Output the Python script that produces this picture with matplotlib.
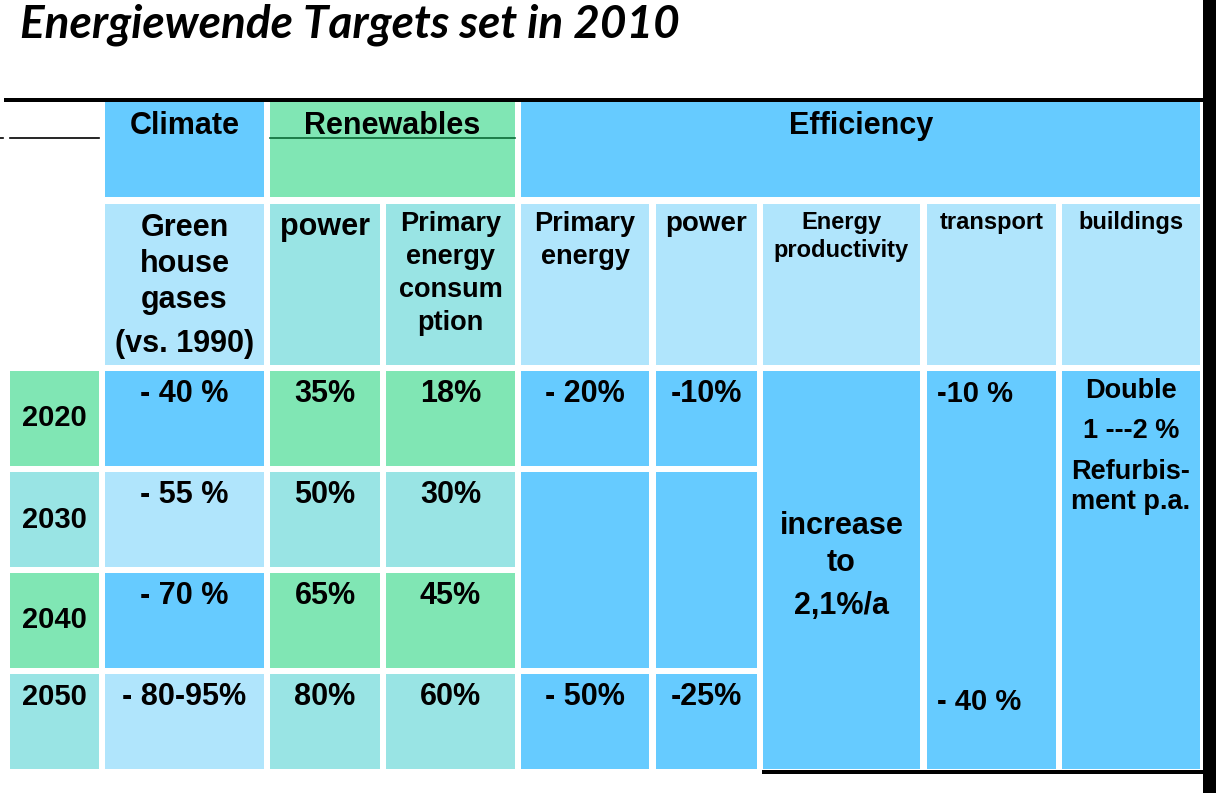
import matplotlib
matplotlib.use("Agg")
import matplotlib.pyplot as plt
from matplotlib.patches import Rectangle

# table content
title = "Energiewende Targets set in 2010"
groups = ["Climate", "Renewables", "Efficiency"]
years = ["2020", "2030", "2040", "2050"]
climate = ["- 40 %", "- 55 %", "- 70 %", "- 80-95%"]
ren_power = ["35%", "50%", "65%", "80%"]
ren_primary = ["18%", "30%", "45%", "60%"]
eff_primary = ["- 20%", "- 50%"]     # 2020, 2050 (2030-2040 merged, empty)
eff_power = ["-10%", "-25%"]
productivity = ["increase", "to", "2,1%/a"]
transport = ["-10 %", "- 40 %"]
buildings = ["Double", "1 ---2 %", "Refurbis-", "ment p.a."]

DARK = "#66CBFF"
LIGHT = "#B0E5FC"
GREEN = "#80E6B4"
TEAL = "#99E4E4"

fig = plt.figure(figsize=(12.16, 7.93), dpi=100)
ax = fig.add_axes([0, 0, 1, 1])
ax.set_xlim(0, 1216)
ax.set_ylim(793, 0)
ax.axis("off")

def cell(x0, x1, y0, y1, color):
    ax.add_patch(Rectangle((x0, y0), x1 - x0, y1 - y0, facecolor=color,
                           edgecolor="none", zorder=1))

def txt(x, y, s, size=22, ha="center", weight="bold"):
    ax.text(x, y, s, fontsize=size, ha=ha, va="center", weight=weight,
            family="Liberation Sans", color="black", zorder=3)

# column edges
cols = {"year": (10, 99), "clim": (105, 264), "rpow": (270, 380),
        "rpri": (386, 515), "epri": (521, 649), "epow": (656, 757),
        "prod": (763, 920), "tran": (927, 1056), "bld": (1062, 1200)}
row_top = [371, 472, 573, 674]
row_h = 95

# title
ax.text(20, 25, title, fontsize=33, style="italic", weight="bold",
        family="Lato", ha="left", va="center")

# group header row
cell(105, 264, 102, 197, DARK)
cell(270, 515, 102, 197, GREEN)
cell(521, 1200, 102, 197, DARK)
txt(185, 126, groups[0])
txt(392, 126, groups[1])
txt(861, 126, groups[2])
ax.plot([270, 515], [138, 138], color="#0B6B36", lw=1.2, zorder=2)
ax.plot([0, 3], [138, 138], color="black", lw=1.2, zorder=2)
ax.plot([10, 99], [138, 138], color="black", lw=1.2, zorder=2)

# sub header row
sub_colors = {"clim": LIGHT, "rpow": TEAL, "rpri": TEAL, "epri": LIGHT,
              "epow": LIGHT, "prod": LIGHT, "tran": LIGHT, "bld": LIGHT}
for k, c in sub_colors.items():
    cell(cols[k][0], cols[k][1], 204, 365, c)

def center(k):
    return (cols[k][0] + cols[k][1]) / 2

for s, y in zip(["Green", "house", "gases", "(vs. 1990)"], [228, 264, 300, 344]):
    txt(center("clim"), y, s)
txt(center("rpow"), 227, "power")
for s, y in zip(["Primary", "energy", "consum", "ption"], [224, 257, 290, 323]):
    txt(center("rpri"), y, s, size=19.5)
for s, y in zip(["Primary", "energy"], [224, 257]):
    txt(center("epri"), y, s, size=19.5)
txt(center("epow"), 224, "power", size=20)
for s, y in zip(["Energy", "productivity"], [222, 251]):
    txt(center("prod"), y, s, size=17)
txt(center("tran"), 222, "transport", size=17)
txt(center("bld"), 222, "buildings", size=17)

# year rows
for i, t in enumerate(row_top):
    b = t + row_h
    alt = i % 2 == 0
    cell(*cols["year"], t, b, GREEN if alt else TEAL)
    cell(*cols["clim"], t, b, DARK if alt else LIGHT)
    cell(*cols["rpow"], t, b, GREEN if alt else TEAL)
    cell(*cols["rpri"], t, b, GREEN if alt else TEAL)
    ytxt = t + 23
    txt(center("year"), ytxt if i == 3 else t + row_h / 2, years[i], size=21)
    txt(center("clim"), ytxt, climate[i])
    txt(center("rpow"), ytxt, ren_power[i])
    txt(center("rpri"), ytxt, ren_primary[i])

# efficiency block
bottom = row_top[-1] + row_h
for k, vals in (("epri", eff_primary), ("epow", eff_power)):
    cell(*cols[k], row_top[0], row_top[0] + row_h, DARK)
    cell(*cols[k], row_top[1], row_top[2] + row_h, DARK)
    cell(*cols[k], row_top[3], bottom, DARK)
    txt(center(k), row_top[0] + 23, vals[0])
    txt(center(k), row_top[3] + 23, vals[1])
for k in ("prod", "tran", "bld"):
    cell(*cols[k], row_top[0], bottom, DARK)
for s, y in zip(productivity, [526, 563, 606]):
    txt(center("prod"), y, s)
txt(937, 394, transport[0], ha="left", size=21)
txt(937, 702, transport[1], ha="left", size=21)
for s, y in zip(buildings, [391, 431, 472, 502]):
    txt(center("bld"), y, s, size=19.5)

# black rules
ax.add_patch(Rectangle((4, 98), 1200, 4, facecolor="black", zorder=4))
ax.add_patch(Rectangle((1203, 0), 13, 793, facecolor="black", zorder=4))
ax.add_patch(Rectangle((762, 770), 441, 4, facecolor="black", zorder=4))

fig.savefig("out.png", dpi=100)
